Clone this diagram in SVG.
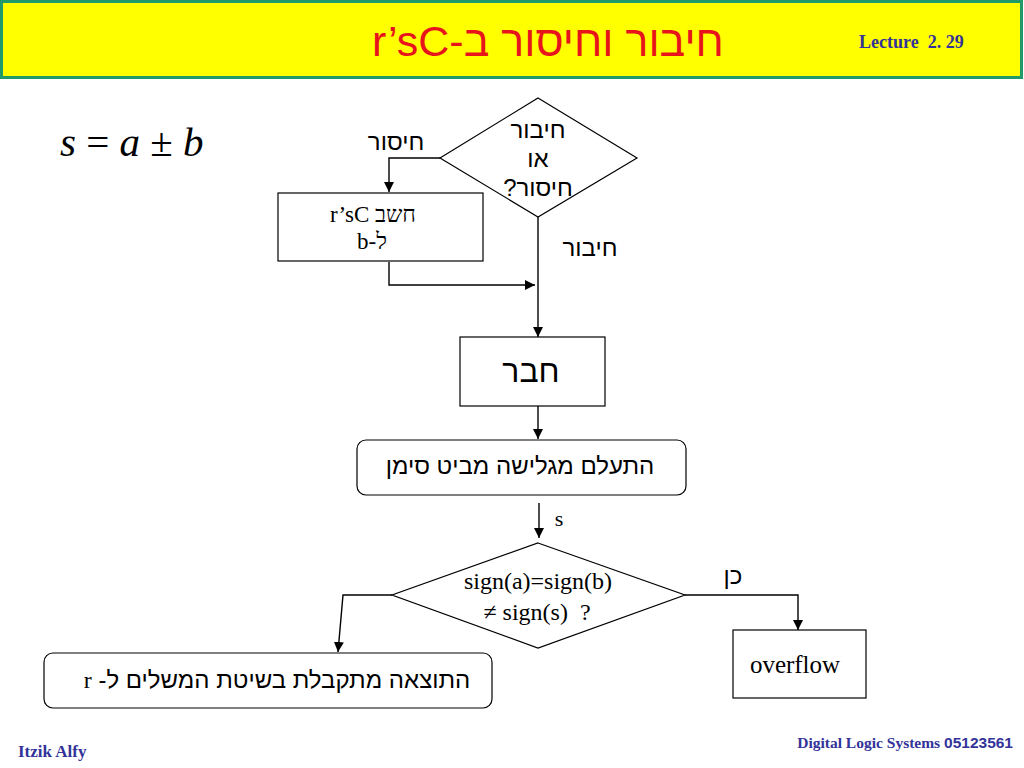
<svg xmlns="http://www.w3.org/2000/svg" width="1024" height="768" viewBox="0 0 1024 768">
<defs>
<marker id="arr" viewBox="0 0 10 10" refX="10" refY="5" markerWidth="10" markerHeight="10" markerUnits="userSpaceOnUse" orient="auto">
<path d="M0,0 L10,5 L0,10 z" fill="#000"/>
</marker>
<style>
.box{fill:#fff;stroke:#000;stroke-width:1.2}
.ln{fill:none;stroke:#000;stroke-width:1.4}
.he{font-family:"Liberation Sans","DejaVu Sans",sans-serif;fill:#000}
.tm{font-family:"Liberation Serif","DejaVu Serif",serif;fill:#000}
.ft{font-family:"Liberation Serif",serif;font-weight:bold;fill:#333399}
</style>
</defs>
<rect width="1024" height="768" fill="#fff"/>
<g id="header">
<rect x="1.5" y="1.5" width="1020" height="76" fill="#ffff00" stroke="#1f9a68" stroke-width="3"/>
<text x="548" y="56" text-anchor="middle" direction="rtl" font-family="Liberation Sans, sans-serif" font-size="43" fill="#e8141c">חיבור וחיסור ב-r’sC</text>
<text x="859" y="48" class="ft" font-size="18" xml:space="preserve">Lecture  2. 29</text>
</g>
<g id="formula">
<text x="60" y="156" font-family="Liberation Serif, serif" font-style="italic" font-size="41" fill="#000">s <tspan font-style="normal">=</tspan> a <tspan font-style="normal">±</tspan> b</text>
</g>
<g id="connectors">
<polyline class="ln" points="440,158 389,158 389,192" marker-end="url(#arr)"/>
<polyline class="ln" points="389,262 389,285 535,285" marker-end="url(#arr)"/>
<line class="ln" x1="538" y1="217" x2="538" y2="337" marker-end="url(#arr)"/>
<line class="ln" x1="538" y1="406" x2="538" y2="439" marker-end="url(#arr)"/>
<line class="ln" x1="539" y1="503" x2="539" y2="538" marker-end="url(#arr)"/>
<polyline class="ln" points="685,595 798,595 798,630" marker-end="url(#arr)"/>
<polyline class="ln" points="392,595 343,595 338,652" marker-end="url(#arr)"/>
<text class="he" x="396" y="150" text-anchor="middle" font-size="24" direction="rtl">חיסור</text>
<text class="he" x="590" y="256" text-anchor="middle" font-size="24" direction="rtl">חיבור</text>
<text class="tm" x="559" y="526" text-anchor="middle" font-size="22">s</text>
<text class="he" x="733" y="584" text-anchor="middle" font-size="24" direction="rtl">כן</text>
</g>
<g id="decision1">
<polygon class="box" points="538,98 637,158 538,217 440,158"/>
<text class="he" x="538" y="138" text-anchor="middle" font-size="24" direction="rtl">חיבור</text>
<text class="he" x="538" y="167" text-anchor="middle" font-size="24" direction="rtl">או</text>
<text class="he" x="538" y="196" text-anchor="middle" font-size="24" direction="rtl">חיסור?</text>
</g>
<g id="complement">
<rect class="box" x="278" y="193" width="205" height="68"/>
<text class="tm" x="373" y="222" text-anchor="middle" font-size="23" direction="rtl">חשב r’sC</text>
<text class="tm" x="372" y="249" text-anchor="middle" font-size="23" direction="rtl">ל-b</text>
</g>
<g id="add">
<rect class="box" x="460" y="337" width="145" height="69"/>
<text class="he" x="531" y="382" text-anchor="middle" font-size="32" direction="rtl">חבר</text>
</g>
<g id="ignore">
<rect class="box" x="357" y="440" width="329" height="55" rx="9"/>
<text class="he" x="520" y="474" text-anchor="middle" font-size="24" direction="rtl">התעלם מגלישה מביט סימן</text>
</g>
<g id="decision2">
<polygon class="box" points="538,543 685,595 538,648 392,595"/>
<text class="tm" x="538" y="589" text-anchor="middle" font-size="24">sign(a)=sign(b)</text>
<text class="tm" x="537" y="620" text-anchor="middle" font-size="24" xml:space="preserve">≠ sign(s)  ?</text>
</g>
<g id="overflow">
<rect class="box" x="733" y="630" width="133" height="68"/>
<text class="tm" x="795" y="673" text-anchor="middle" font-size="25">overflow</text>
</g>
<g id="result">
<rect class="box" x="44" y="653" width="448" height="55" rx="9"/>
<text class="he" x="277" y="688" text-anchor="middle" font-size="24" direction="rtl">התוצאה מתקבלת בשיטת המשלים ל- <tspan font-family="Liberation Serif, serif">r</tspan></text>
</g>
<g id="footer">
<text x="18" y="757" class="ft" font-size="17">Itzik Alfy</text>
<text x="1013" y="748" text-anchor="end" class="ft" font-size="15.5">Digital Logic Systems <tspan font-family="Liberation Sans, sans-serif">05123561</tspan></text>
</g>
</svg>
